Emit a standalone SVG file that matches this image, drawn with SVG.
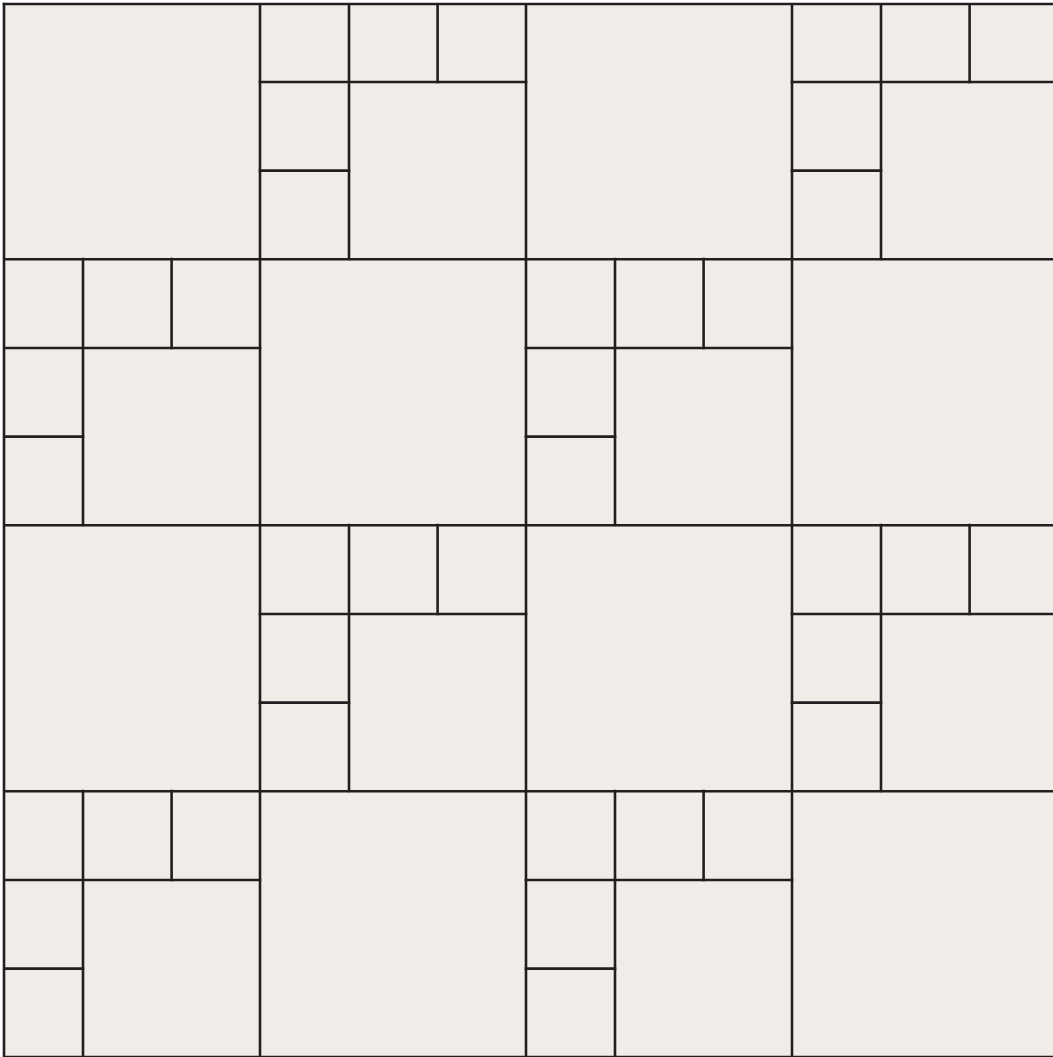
<svg xmlns="http://www.w3.org/2000/svg" xmlns:xlink="http://www.w3.org/1999/xlink" width="1053" height="1057" viewBox="0 0 1053 1057">
<style>
.ln{stroke:#231f20;stroke-width:2.6;fill:none;stroke-linecap:square}
</style>
<defs>
<clipPath id="frame"><rect x="4" y="4" width="1052" height="1056"/></clipPath>
<g id="sub" class="ln">
<line x1="0" y1="89" x2="266" y2="89"/>
<line x1="89" y1="0" x2="89" y2="266"/>
<line x1="177.6" y1="0" x2="177.6" y2="89"/>
<line x1="0" y1="177.6" x2="89" y2="177.6"/>
</g>
</defs>
<rect x="0" y="0" width="1053" height="1057" fill="#ffffff"/>
<rect x="4" y="4" width="1049" height="1053" fill="#f0ece8"/>
<g clip-path="url(#frame)">
<g id="major" class="ln">
<line x1="260" y1="4" x2="260" y2="1060"/>
<line x1="526" y1="4" x2="526" y2="1060"/>
<line x1="792" y1="4" x2="792" y2="1060"/>
<line x1="4" y1="259.3" x2="1060" y2="259.3"/>
<line x1="4" y1="525.3" x2="1060" y2="525.3"/>
<line x1="4" y1="791.3" x2="1060" y2="791.3"/>
<line x1="4" y1="1057" x2="1060" y2="1057"/>
</g>
<g id="subdivided">
<use xlink:href="#sub" href="#sub" x="260" y="-7"/>
<use xlink:href="#sub" href="#sub" x="792" y="-7"/>
<use xlink:href="#sub" href="#sub" x="-6" y="259"/>
<use xlink:href="#sub" href="#sub" x="526" y="259"/>
<use xlink:href="#sub" href="#sub" x="260" y="525"/>
<use xlink:href="#sub" href="#sub" x="792" y="525"/>
<use xlink:href="#sub" href="#sub" x="-6" y="791"/>
<use xlink:href="#sub" href="#sub" x="526" y="791"/>
</g>
</g>
<g id="border" class="ln">
<line x1="4" y1="4" x2="1060" y2="4"/>
<line x1="4" y1="4" x2="4" y2="1060"/>
</g>
</svg>
